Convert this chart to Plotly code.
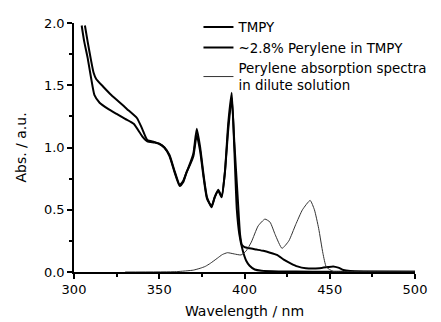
import plotly.graph_objects as go

# TMPY
wl_tmpy = [304.5, 306, 308, 310, 312, 315, 320, 325, 330, 335, 340, 343, 347, 350, 353, 356, 359, 362, 364, 366, 368,
           370, 372, 374, 376, 378, 380.7, 382.5, 384.6, 386.6, 388.5, 390.5, 392.5, 394, 395.5, 397, 399, 401, 403,
           406, 410, 420, 440, 470, 500]
abs_tmpy = [1.98, 1.85, 1.72, 1.56, 1.42, 1.36, 1.31, 1.27, 1.23, 1.19, 1.09, 1.05, 1.04, 1.03, 1.0, 0.93, 0.8, 0.69,
            0.72, 0.8, 0.87, 0.95, 1.15, 1.0, 0.78, 0.6, 0.52, 0.6, 0.65, 0.6, 0.8, 1.2, 1.44, 1.0, 0.5, 0.3, 0.17,
            0.09, 0.05, 0.02, 0.01, 0.005, 0.003, 0.002, 0.002]

# ~2.8% Perylene in TMPY
wl_dope = [306.4, 308, 310, 311.5, 313, 317, 322, 327, 331, 337, 340, 343, 347, 350, 353, 356, 359, 362, 364, 366,
           368, 370, 372, 374, 376, 378, 380.7, 382.5, 384.6, 386.6, 388.5, 390.5, 392.5, 394, 396, 397.4, 398.4, 400,
           403, 407, 411, 415, 419, 423, 427, 431, 436, 444, 449, 452, 455, 458, 462, 470, 500]
abs_dope = [1.98, 1.85, 1.7, 1.6, 1.55, 1.49, 1.42, 1.36, 1.31, 1.235, 1.15, 1.06, 1.045, 1.03, 1.0, 0.94, 0.81, 0.7,
            0.73, 0.8, 0.86, 0.93, 1.1, 0.97, 0.76, 0.59, 0.53, 0.6, 0.66, 0.61, 0.8, 1.15, 1.4, 1.05, 0.6, 0.3, 0.22,
            0.2, 0.19, 0.18, 0.17, 0.155, 0.137, 0.1, 0.07, 0.045, 0.03, 0.03, 0.04, 0.045, 0.035, 0.016, 0.008, 0.005,
            0.003]

# Perylene absorption spectra in dilute solution
wl_sol = [330, 360, 370, 374, 377, 380, 384, 387, 390, 394, 398, 401, 404, 408, 412, 415, 418, 422, 426, 430, 434,
          438.5, 441, 443.5, 446, 448, 452, 460, 500]
abs_sol = [0.0, 0.003, 0.015, 0.03, 0.045, 0.07, 0.11, 0.14, 0.155, 0.145, 0.137, 0.17, 0.24, 0.37, 0.425, 0.4, 0.3,
           0.19, 0.25, 0.38, 0.5, 0.575, 0.5, 0.35, 0.15, 0.04, 0.005, 0.002, 0.0]

x_ticks = [300, 350, 400, 450, 500]
y_ticks = [0.0, 0.5, 1.0, 1.5, 2.0]

FONT = "DejaVu Sans"

fig = go.Figure()
fig.add_trace(go.Scatter(x=wl_tmpy, y=abs_tmpy, mode="lines", name="TMPY",
                         line=dict(color="black", width=2, shape="spline", smoothing=0.5)))
fig.add_trace(go.Scatter(x=wl_dope, y=abs_dope, mode="lines", name="~2.8% Perylene in TMPY",
                         line=dict(color="black", width=2, shape="spline", smoothing=0.5)))
fig.add_trace(go.Scatter(x=wl_sol, y=abs_sol, mode="lines",
                         name="Perylene absorption spectra<br>in dilute solution",
                         line=dict(color="#333", width=1, shape="spline", smoothing=0.5)))

axis_common = dict(showline=True, linecolor="black", linewidth=1.5, ticks="outside", ticklen=5, tickwidth=1.5,
                   tickcolor="black", showgrid=False, zeroline=False, mirror=False, automargin=False,
                   tickfont=dict(family=FONT, size=13, color="black"))
fig.update_xaxes(range=[300, 500], tickvals=x_ticks, ticktext=[str(v) for v in x_ticks],
                 minor=dict(ticks="outside", ticklen=3, dtick=25, tickcolor="black"),
                 title=dict(text="Wavelength / nm", font=dict(family=FONT, size=14, color="black"),
                            standoff=10),
                 **axis_common)
fig.update_yaxes(range=[0, 2.0], tickvals=y_ticks, ticktext=[f"{v:.1f}" for v in y_ticks],
                 minor=dict(ticks="outside", ticklen=3, dtick=0.25, tickcolor="black"),
                 title=dict(text="Abs. / a.u.", font=dict(family=FONT, size=14, color="black"),
                            standoff=14),
                 **axis_common)
fig.update_layout(width=441, height=322, margin=dict(l=74, r=26, t=23, b=50, autoexpand=False),
                  paper_bgcolor="white", plot_bgcolor="white",
                  legend=dict(x=0.365, y=1.045, xanchor="left", yanchor="top", bgcolor="rgba(0,0,0,0)",
                              font=dict(family=FONT, size=13.4, color="black"),
                              tracegroupgap=0, itemwidth=30))
fig.write_html("out.html")
